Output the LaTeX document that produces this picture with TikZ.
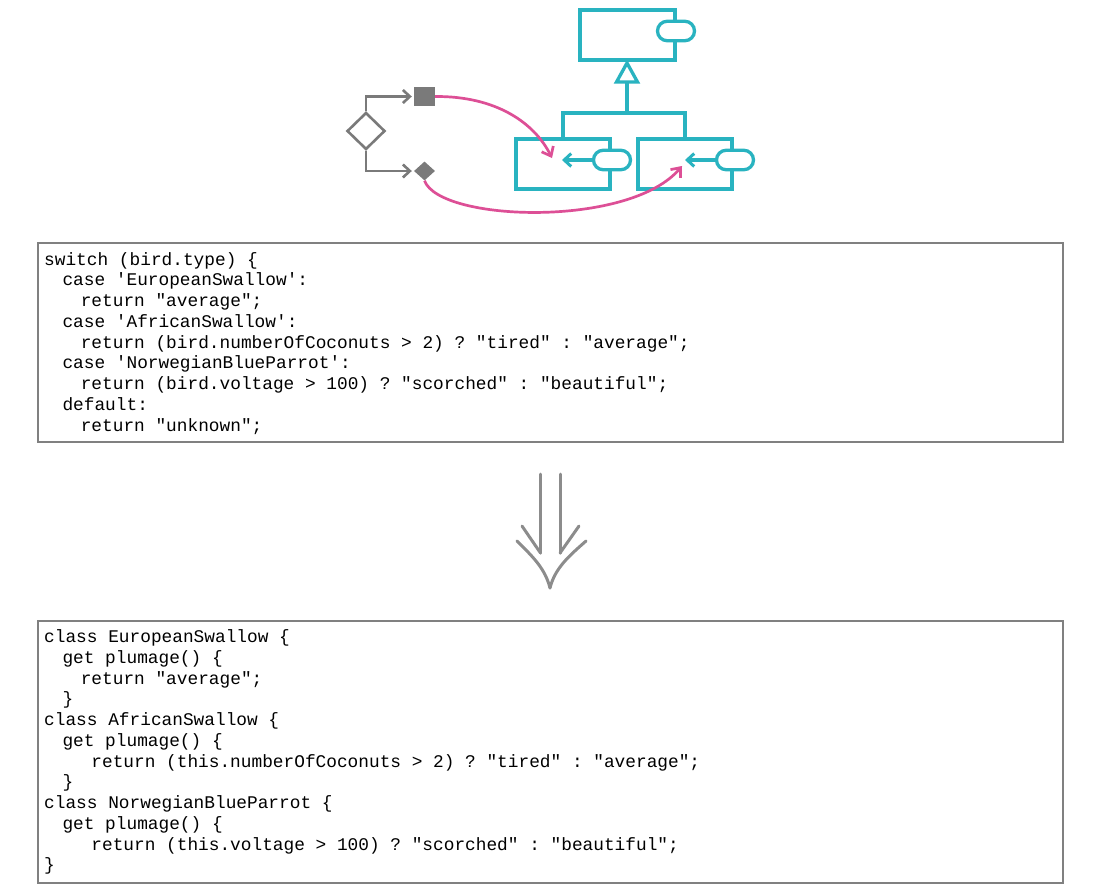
\documentclass[tikz,border=0pt]{standalone}
\usepackage{fontspec}
\setmonofont{Liberation Mono}
\usetikzlibrary{arrows.meta,shapes.geometric,shapes.misc}
\definecolor{tealc}{HTML}{29B3C0}
\definecolor{pinkc}{HTML}{DD4F96}
\definecolor{grayc}{HTML}{7A7A7A}
\definecolor{boxc}{HTML}{808080}
\definecolor{arrowc}{HTML}{8C8C8C}
\begin{document}
\begin{tikzpicture}[x=1pt,y=-1pt,
  cls/.style={draw=tealc,line width=3.3pt,rectangle,minimum width=94pt,minimum height=50pt,inner sep=0pt,fill=white},
  pill/.style={draw=tealc,line width=3.3pt,rounded rectangle,minimum width=37pt,minimum height=19.5pt,inner sep=0pt,fill=white},
  tealline/.style={draw=tealc,line width=3.3pt},
  tealarrow/.style={draw=tealc,line width=3.3pt,-{Straight Barb[length=7pt,width=13pt,line width=3pt]}},
  grayline/.style={draw=grayc,line width=2.5pt},
  grayarrow/.style={draw=grayc,line width=2.6pt,-{Straight Barb[length=7pt,width=13pt,line width=2.6pt]},shorten >=2pt},
  pinkarrow/.style={draw=pinkc,line width=2.7pt,-{Straight Barb[length=8pt,width=13pt,line width=2.7pt]}},
  codebox/.style={draw=boxc,line width=1.2pt,rectangle,inner sep=0pt},
  code/.style={anchor=base west,inner sep=0pt,font=\fontsize{17.8}{20.75}\selectfont\ttfamily,text=black},
  bigarrow/.style={draw=arrowc,line width=3pt,line cap=round}
]
\useasboundingbox (0,0) rectangle (1100,892);
\fill[white] (0,0) rectangle (1100,892);

% ---------- class hierarchy ----------
\node[cls,minimum width=95pt] (super) at (627.5,35) {};
\node[pill] (sp) at (676,31) {};
\node[cls] (sub1) at (563,164) {};
\node[cls] (sub2) at (685,164) {};
\node[pill] (p1) at (612,160) {};
\node[pill] (p2) at (735,160) {};
\coordinate (apex) at (627,63);
\coordinate (tb) at (627,82);
\coordinate (bar1) at (563,113);
\coordinate (bar2) at (685,113);
\coordinate (barm) at (627,113);
\draw[tealline,line join=miter] (apex) -- (637.5,82) -- (616.5,82) -- cycle;
\draw[tealline] (tb) -- (barm);
\draw[tealline] (sub1.north) -- (bar1) -- (bar2) -- (sub2.north);
\coordinate (t1) at (562,160);
\coordinate (t2) at (685,160);
\draw[tealarrow] (p1.west) -- (t1);
\draw[tealarrow] (p2.west) -- (t2);

% ---------- conditional ----------
\node[diamond,draw=grayc,line width=2.6pt,minimum width=38pt,minimum height=37pt,inner sep=0pt] (dec) at (366,131) {};
\node[rectangle,fill=grayc,minimum width=21pt,minimum height=19pt,inner sep=0pt] (sq) at (424.5,96.5) {};
\node[diamond,fill=grayc,minimum width=21pt,minimum height=19pt,inner sep=0pt] (sd) at (424.5,171) {};
\draw[grayarrow] (dec.north) |- (sq.west);
\draw[grayarrow] (dec.south) |- (sd.west);

\coordinate (c1) at (552,158);
\coordinate (c2) at (682,166);
\draw[pinkarrow] (sq.east) .. controls (495,96) and (534,122) .. (c1);
\draw[pinkarrow] (sd.south) .. controls (440,222) and (630,228) .. (c2);

% ---------- code before ----------
\node[codebox,minimum width=1025pt,minimum height=199pt] (before) at (550.5,342.5) {};
\node[code] (b1) at (44,265) {switch (bird.type) \{};
\node[code] (b2) at (62.3,285.75) {case 'EuropeanSwallow':};
\node[code] (b3) at (80.6,306.5) {return "average";};
\node[code] (b4) at (62.3,327.25) {case 'AfricanSwallow':};
\node[code] (b5) at (80.6,348) {return (bird.numberOfCoconuts > 2) ? "tired" : "average";};
\node[code] (b6) at (62.3,368.75) {case 'NorwegianBlueParrot':};
\node[code] (b7) at (80.6,389.5) {return (bird.voltage > 100) ? "scorched" : "beautiful";};
\node[code] (b8) at (62.3,410.25) {default:};
\node[code] (b9) at (80.6,431) {return "unknown";};

% ---------- big arrow ----------
\coordinate (l1) at (540.5,474);
\coordinate (l2) at (540.5,553);
\coordinate (r1) at (560,474);
\coordinate (r2) at (560,553);
\coordinate (tip) at (550,588);
\draw[bigarrow] (l1) -- (l2);
\draw[bigarrow] (r1) -- (r2);
\draw[bigarrow] (522,526) -- (l2);
\draw[bigarrow] (579,526) -- (r2);
\draw[bigarrow] (517,541) .. controls (532,556) and (545,568) .. (tip);
\draw[bigarrow] (586,541) .. controls (569,556) and (555,568) .. (tip);

% ---------- code after ----------
\node[codebox,minimum width=1025pt,minimum height=262pt] (after) at (550.5,752) {};
\node[code] (a1) at (44,642.7) {class EuropeanSwallow \{};
\node[code] (a2) at (62.3,663.45) {get plumage() \{};
\node[code] (a3) at (80.6,684.2) {return "average";};
\node[code] (a4) at (62.3,704.95) {\}};
\node[code] (a5) at (44,725.7) {class AfricanSwallow \{};
\node[code] (a6) at (62.3,746.45) {get plumage() \{};
\node[code] (a7) at (91.2,767.2) {return (this.numberOfCoconuts > 2) ? "tired" : "average";};
\node[code] (a8) at (62.3,787.95) {\}};
\node[code] (a9) at (44,808.7) {class NorwegianBlueParrot \{};
\node[code] (a10) at (62.3,829.45) {get plumage() \{};
\node[code] (a11) at (91.2,850.2) {return (this.voltage > 100) ? "scorched" : "beautiful";};
\node[code] (a12) at (44,870.95) {\}};
\end{tikzpicture}
\end{document}
